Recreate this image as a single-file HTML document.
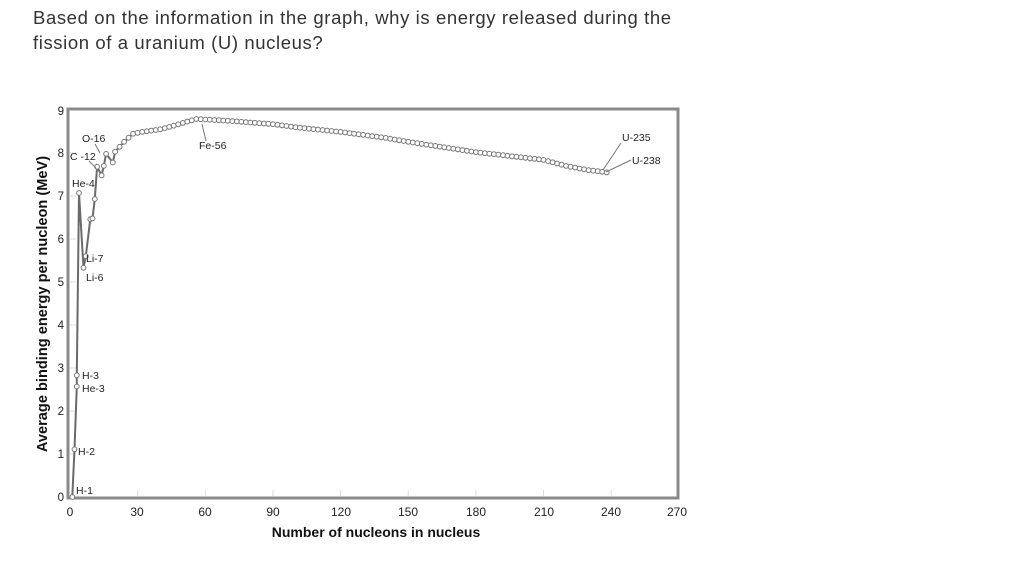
<!DOCTYPE html>
<html><head><meta charset="utf-8"><style>
body{margin:0;background:#fff;width:1031px;height:562px;overflow:hidden;font-family:"Liberation Sans",Arial,sans-serif}
.q{position:absolute;left:33px;top:5px;font-size:18.5px;line-height:25px;color:#333;letter-spacing:0.6px}
</style></head><body>
<div class="q">Based on the information in the graph, why is energy released during the<br>fission of a uranium (U) nucleus?</div>
<svg id="s" width="1031" height="562" style="position:absolute;left:0;top:0" font-family="Liberation Sans,Arial,sans-serif">
<rect x="68" y="109" width="610" height="389" fill="none" stroke="#8a8a8a" stroke-width="3"/>
<g id="ticks" stroke="#ddd" stroke-width="1"></g>
<g font-size="11.5" fill="#222" text-anchor="end">
<text x="64" y="501">0</text><text x="64" y="458">1</text><text x="64" y="415">2</text><text x="64" y="372">3</text><text x="64" y="329">4</text><text x="64" y="286">5</text><text x="64" y="243">6</text><text x="64" y="200">7</text><text x="64" y="157">8</text><text x="64" y="115">9</text>
</g>
<g font-size="12" fill="#222" text-anchor="middle">
<text x="70" y="516">0</text><text x="137" y="516">30</text><text x="205" y="516">60</text><text x="273" y="516">90</text><text x="341" y="516">120</text><text x="408" y="516">150</text><text x="476" y="516">180</text><text x="544" y="516">210</text><text x="611" y="516">240</text><text x="677" y="516">270</text>
</g>
<text x="376" y="537" font-size="14" font-weight="bold" text-anchor="middle" fill="#111">Number of nucleons in nucleus</text>
<text transform="translate(47,304) rotate(-90)" font-size="14.6" font-weight="bold" text-anchor="middle" fill="#111">Average binding energy per nucleon (MeV)</text>
<g id="curve"></g>
<g font-size="10.5" fill="#222">
<text x="82" y="142">O-16</text><text x="70" y="160">C -12</text><text x="72" y="187">He-4</text>
<text x="86" y="262">Li-7</text><text x="86" y="281">Li-6</text>
<text x="82" y="379">H-3</text><text x="82" y="392">He-3</text><text x="78" y="455">H-2</text><text x="76" y="494">H-1</text>
<text x="199" y="149">Fe-56</text><text x="622" y="141">U-235</text><text x="632" y="164">U-238</text>
</g>
<g stroke="#777" stroke-width="1" fill="none">
<line x1="95" y1="144" x2="100" y2="153"/><line x1="89" y1="161" x2="96" y2="168"/>
<line x1="206" y1="141" x2="202" y2="124"/><line x1="621" y1="143" x2="603" y2="170"/><line x1="631" y1="160" x2="606" y2="172"/>
</g>
</svg>
<script>
var X=a=>70+a*2.255,Y=v=>497-v*43;
var t=document.getElementById('ticks'),h='';
[30,60,90,120,150,180,210,240].forEach(a=>h+='<line x1="'+X(a)+'" y1="490" x2="'+X(a)+'" y2="496"/>');
for(var i=1;i<9;i++)h+='<line x1="70" y1="'+Y(i)+'" x2="76" y2="'+Y(i)+'"/>';
t.innerHTML=h;
var early=[[1,0],[2,1.11],[3,2.57],[3,2.83],[4,7.07],[6,5.33],[7,5.6],[9,6.46],[10,6.48],[11,6.93],[12,7.68],[14,7.48],[15,7.7],[16,7.98],[19,7.78],[20,8.03]];
var key=[[20,8.03],[24,8.26],[28,8.45],[32,8.49],[36,8.52],[40,8.55],[45,8.62],[50,8.7],[56,8.79],[60,8.78],[70,8.75],[80,8.71],[90,8.67],[100,8.6],[120,8.49],[140,8.35],[150,8.26],[160,8.18],[180,8.02],[200,7.9],[210,7.84],[220,7.7],[230,7.6],[235,7.57],[238,7.55]];
function f(a){for(var i=0;i<key.length-1;i++){var p=key[i],q=key[i+1];if(a<=q[0])return p[1]+(q[1]-p[1])*(a-p[0])/(q[0]-p[0]);}return 7.55;}
var pts=early.slice();for(var a=22;a<=236;a+=2)pts.push([a,f(a)]);pts.push([238,7.55]);
var d=pts.map(p=>X(p[0]).toFixed(1)+','+Y(p[1]).toFixed(1)).join(' ');
var s='<polyline points="'+d+'" fill="none" stroke="#6a6a6a" stroke-width="2"/>';
pts.forEach(p=>s+='<circle cx="'+X(p[0]).toFixed(1)+'" cy="'+Y(p[1]).toFixed(1)+'" r="2.4" fill="#fff" stroke="#777" stroke-width="1"/>');
document.getElementById('curve').innerHTML=s;
</script>
</body></html>
